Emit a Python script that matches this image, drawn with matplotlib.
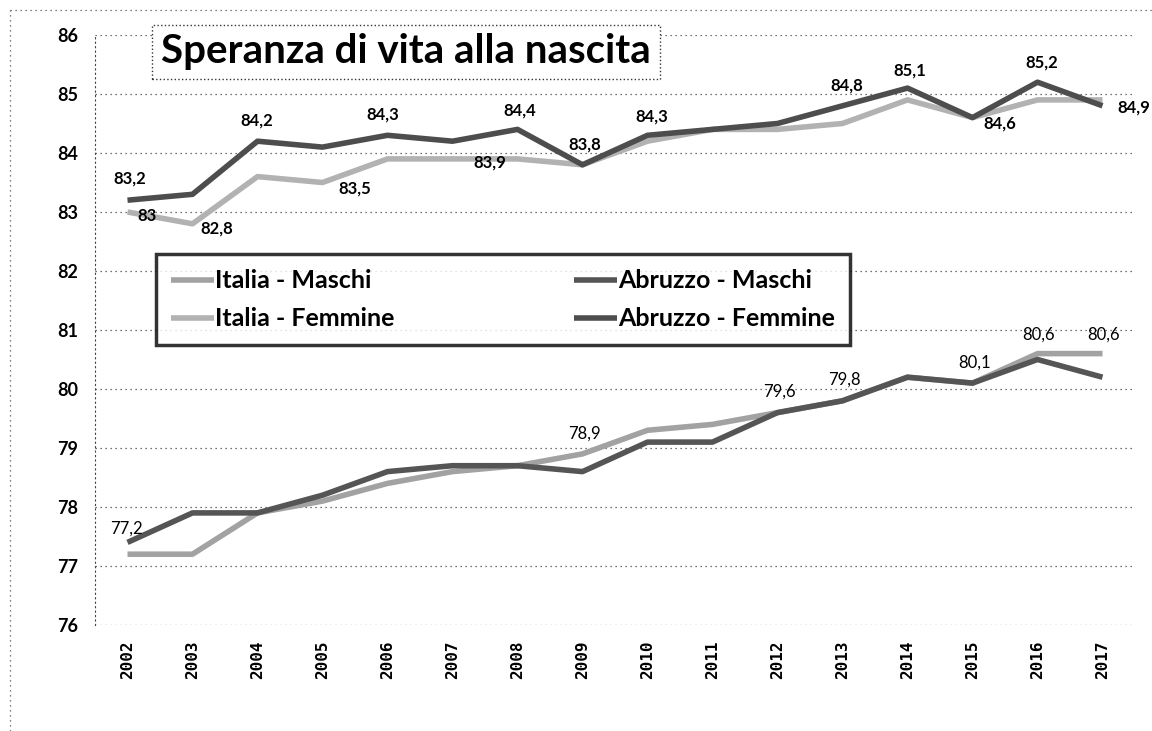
import matplotlib
matplotlib.use("Agg")
import matplotlib.pyplot as plt
from matplotlib.lines import Line2D

anni = [str(a) for a in range(2002, 2018)]

italia_maschi = [77.2, 77.2, 77.9, 78.1, 78.4, 78.6, 78.7, 78.9,
                 79.3, 79.4, 79.6, 79.8, 80.2, 80.1, 80.6, 80.6]
abruzzo_maschi = [77.4, 77.9, 77.9, 78.2, 78.6, 78.7, 78.7, 78.6,
                  79.1, 79.1, 79.6, 79.8, 80.2, 80.1, 80.5, 80.2]
italia_femmine = [83.0, 82.8, 83.6, 83.5, 83.9, 83.9, 83.9, 83.8,
                  84.2, 84.4, 84.4, 84.5, 84.9, 84.6, 84.9, 84.9]
abruzzo_femmine = [83.2, 83.3, 84.2, 84.1, 84.3, 84.2, 84.4, 83.8,
                   84.3, 84.4, 84.5, 84.8, 85.1, 84.6, 85.2, 84.8]

# data labels: (series, year index, dx px, dy px, bold)
etichette = [
    ('AF', 0, 2, 22, True), ('IF', 0, 19, -4, True), ('IF', 1, 24, -5, True),
    ('AF', 2, -1, 21, True), ('IF', 3, 32, -6, True), ('AF', 4, -5, 21, True),
    ('IF', 6, -28, -4, True), ('AF', 6, 2, 19, True), ('AF', 7, 2, 20, True),
    ('AF', 8, 4, 19, True), ('AF', 11, 4, 20, True), ('AF', 12, 2, 18, True),
    ('IF', 13, 27, -6, True), ('AF', 14, 4, 20, True), ('IF', 15, 31, -8, True),
    ('IM', 0, -1, 26, False), ('IM', 7, 2, 20, False), ('IM', 10, 2, 21, False),
    ('IM', 11, 2, 21, False), ('IM', 13, 2, 20, False), ('IM', 14, 1, 19, False),
    ('IM', 15, 1, 19, False),
]

serie = {
    'IM': (italia_maschi, 'Italia - Maschi', '#a2a2a2'),
    'IF': (italia_femmine, 'Italia - Femmine', '#b2b2b2'),
    'AM': (abruzzo_maschi, 'Abruzzo - Maschi', '#555555'),
    'AF': (abruzzo_femmine, 'Abruzzo - Femmine', '#4d4d4d'),
}

fig = plt.figure(figsize=(11.52, 7.31), dpi=100)
ax = fig.add_axes([95 / 1152, 1 - 625 / 731, 1040 / 1152, 590 / 731])

x = list(range(len(anni)))
for key in ['IM', 'IF', 'AM', 'AF']:
    vals, lab, col = serie[key]
    ax.plot(x, vals, color=col, lw=4, label=lab, solid_capstyle='butt', zorder=3)

for key, i, dx, dy, bold in etichette:
    v = serie[key][0][i]
    txt = f"{v:g}".replace('.', ',')
    ax.annotate(txt, (i, v), xytext=(dx, dy), textcoords='offset pixels',
                ha='center', va='center', fontsize=12, family='Lato',
                fontweight='bold' if bold else 'normal', color='black',
                annotation_clip=False, zorder=5)

ax.set_xlim(-0.5, len(anni) - 0.5)
ax.set_ylim(76, 86)
ax.set_yticks(range(76, 87))
ax.set_xticks(x)
ax.set_xticklabels(anni, rotation=90, family='DejaVu Sans Mono',
                   fontweight='bold', fontsize=11.5)
for t in ax.get_yticklabels():
    t.set_family('Lato')
    t.set_fontweight('bold')
    t.set_fontsize(13)
ax.tick_params(axis='both', length=0)
ax.tick_params(axis='y', pad=12)
ax.tick_params(axis='x', pad=11)
ax.grid(axis='y', color='#444444', linestyle=(0, (1, 3)), lw=0.9)
for s in ['top', 'right', 'bottom']:
    ax.spines[s].set_visible(False)
ax.spines['left'].set_linestyle((0, (1, 3)))
ax.spines['left'].set_color('#444444')

handles, labels = ax.get_legend_handles_labels()
leg = ax.legend(handles, labels, ncol=2, loc='upper left', mode='expand',
                bbox_to_anchor=(0.0587, 0.528, 0.667, 0.1), frameon=True,
                fancybox=False, edgecolor='black', handlelength=1.7,
                handletextpad=0.05, borderpad=0.6, labelspacing=0.6,
                borderaxespad=0,
                prop={'family': 'Lato', 'weight': 'bold', 'size': 18})
leg.get_frame().set_linewidth(2.5)
leg.set_zorder(6)

fig.text(406 / 1152, 1 - 52 / 731, 'Speranza di vita alla nascita',
         ha='center', va='center', fontsize=29, family='Lato', fontweight='bold',
         bbox=dict(boxstyle='square,pad=0.22', facecolor='white',
                   edgecolor='#333333', linestyle=':', lw=1.0), zorder=7)

# chart area border (dotted, visible on top and left only)
fig.add_artist(Line2D([10 / 1152, 10 / 1152], [0, 1 - 10 / 731],
                      transform=fig.transFigure, color='#555555',
                      linestyle=(0, (1, 3)), lw=0.9))
fig.add_artist(Line2D([10 / 1152, 1], [1 - 10 / 731, 1 - 10 / 731],
                      transform=fig.transFigure, color='#555555',
                      linestyle=(0, (1, 3)), lw=0.9))

fig.savefig('out.png', dpi=100)
